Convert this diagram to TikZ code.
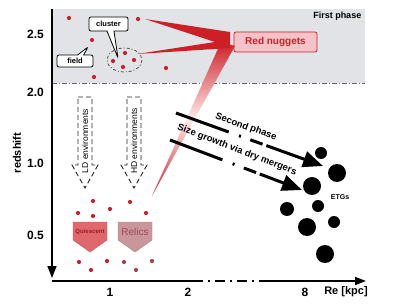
\documentclass[tikz,border=0pt]{standalone}
\usepackage{fontspec}
\setmainfont{Liberation Sans}
\usetikzlibrary{shapes.callouts}
\usetikzlibrary{arrows.meta}

\definecolor{bggray}{HTML}{E1E3E6}
\definecolor{dotred}{HTML}{CC1F2E}
\definecolor{nugred}{HTML}{CC2026}
\definecolor{nugfill}{HTML}{F5C2C8}
\definecolor{quired}{HTML}{E0676B}
\definecolor{quitext}{HTML}{9E1A25}
\definecolor{relpink}{HTML}{C9979B}
\definecolor{reltext}{HTML}{9E4A58}
\definecolor{reldot}{HTML}{A8404E}

\begin{document}
\begin{tikzpicture}[x=1pt, y=-1pt, thick,
    dot/.style = {circle, fill=dotred, inner sep=0pt, minimum size=4.2pt},
    olddot/.style = {dot, fill=reldot},
    etg/.style = {circle, fill=black, inner sep=0pt},
    lbl/.style = {font=\fontsize{12}{12}\selectfont\bfseries},
    env/.style = {draw=black!85, line width=0.9pt, dash pattern=on 5pt off 3pt},
    axis/.style = {line width=1.6pt},
    growth/.style = {line width=3pt, dash pattern=on 56pt off 11pt on 2pt off 10pt on 13pt off 4pt on 300pt, -{Triangle[length=20pt,width=16pt]}},
    bubble/.style = {rectangle callout, draw, line width=0.8pt, rounded corners=2pt, fill=white, font=\fontsize{7.5}{8}\selectfont\bfseries, inner sep=1pt}]
    \useasboundingbox (0,0) rectangle (407,305);
    % first phase band
    \fill[bggray] (52,9) rectangle (365,83);
    \draw[black!60, thin, dash pattern=on 5pt off 2pt on 1pt off 2pt] (52,83) -- (365,83);
    \node[font=\fontsize{9}{9}\selectfont\bfseries, anchor=east] (fp) at (365,16) {First phase};
    \node[draw=nugred, fill=nugfill, rounded corners=2pt, text=nugred, font=\fontsize{10}{10}\selectfont\bfseries, minimum width=83pt, minimum height=20pt] (rn) at (275.5,42) {Red nuggets};
    % red wedges
    \shade[top color=nugred, bottom color=nugred, middle color=white!92!red] (152,196) -- (221,42) -- (235,46) -- cycle;
    \fill[nugred] (145,19) -- (230,32) -- (230,48) -- (137,54) -- (215,42) -- cycle;
    % galaxies at high z
    \node[dot] (1) at (69,18) {};
    \node[dot] (2) at (138,19) {};
    \node[dot] (3) at (92,40) {};
    \node[dot] (4) at (125,53) {};
    \node[dot] (5) at (113,61) {};
    \node[dot] (6) at (134,60) {};
    \node[dot] (7) at (123,67) {};
    \node[dot] (8) at (166,68) {};
    \node[dot] (9) at (94,77) {};
    \draw[black!75, line width=0.7pt, dash pattern=on 3pt off 2pt on 1pt off 2pt] (124.5,60) ellipse [x radius=17.5, y radius=12];
    \node[bubble, callout absolute pointer={(118,58)}, callout pointer width=7pt, minimum width=39pt, minimum height=14pt] (cl) at (108.5,24) {cluster};
    \node[bubble, callout absolute pointer={(88,47)}, callout pointer width=6pt, minimum width=36pt, minimum height=12pt] (fd) at (75,61) {field};
    % environments
    \draw[env] (78,97) -- (92,97) -- (92,165) -- (98,165) -- (85,188) -- (72,165) -- (78,165) -- cycle;
    \node[rotate=90, font=\fontsize{8.5}{9}\selectfont] (ld) at (85,141) {LD environments};
    \draw[env] (127,97) -- (141,97) -- (141,165) -- (147,165) -- (134,188) -- (121,165) -- (127,165) -- cycle;
    \node[rotate=90, font=\fontsize{8.5}{9}\selectfont] (hd) at (134,141) {HD environments};
    % galaxies at low z
    \node[dot] (10) at (93,201) {};
    \node[dot] (11) at (130,202) {};
    \node[dot] (12) at (78,213) {};
    \node[dot] (13) at (93,216) {};
    \node[dot] (14) at (110,209) {};
    \node[dot] (15) at (146,213) {};
    \node[dot] (16) at (79,262) {};
    \node[dot] (17) at (107,261) {};
    \node[dot] (18) at (91,270) {};
    \node[olddot] (19) at (124,262) {};
    \node[olddot] (20) at (152,261) {};
    \node[olddot] (21) at (136,270) {};
    \filldraw[fill=quired, draw=quired!85!black, thin] (73,222) -- (107,222) -- (107,240) -- (90,252) -- (73,240) -- cycle;
    \node[font=\fontsize{6}{6}\selectfont\bfseries, text=quitext] (qs) at (90,232) {Quiescent};
    \filldraw[fill=relpink, draw=relpink!85!black, thin] (118,222) -- (152,222) -- (152,240) -- (135,252) -- (118,240) -- cycle;
    \node[font=\fontsize{10}{10}\selectfont, text=reltext] (rl) at (135,232) {Relics};
    % second phase
    \coordinate (a1) at (176,113);
    \coordinate (a2) at (323,166);
    \coordinate (b1) at (170,140);
    \coordinate (b2) at (302,190);
    \draw[growth] (a1) -- (a2);
    \draw[growth] (b1) -- (b2);
    \node[rotate=-20, font=\fontsize{9.5}{10}\selectfont\bfseries] (sp) at (246,127) {Second phase};
    \node[rotate=-21, font=\fontsize{9.5}{10}\selectfont\bfseries] (sg) at (237,150) {Size growth via dry mergers};
    \node[etg, minimum size=12pt] (e1) at (321,153) {};
    \node[etg, minimum size=18pt] (e2) at (337,173) {};
    \node[etg, minimum size=18pt] (e3) at (312,186) {};
    \node[etg, minimum size=14pt] (e4) at (287,209) {};
    \node[etg, minimum size=12pt] (e5) at (318,206) {};
    \node[etg, minimum size=18pt] (e6) at (307,227) {};
    \node[etg, minimum size=12pt] (e7) at (334,222) {};
    \node[etg, minimum size=18pt] (e8) at (325,254) {};
    \node[font=\fontsize{7}{7}\selectfont\bfseries] (etg) at (340,197) {ETGs};
    % axes
    \coordinate (o) at (52,281);
    \coordinate (ytop) at (52,9);
    \coordinate (ybot) at (52,278);
    \coordinate (x1) at (193,281);
    \coordinate (x2) at (262,281);
    \coordinate (xend) at (366,281);
    \draw[axis, -{Triangle[length=12pt,width=9pt]}] (ytop) -- (ybot);
    \draw[axis] (o) -- (x1);
    \draw[axis, dash pattern=on 10pt off 5pt on 2pt off 5pt] (x1) -- (x2);
    \draw[axis, -{Triangle[length=11pt,width=8pt]}] (x2) -- (xend);
    \node[lbl] (t25) at (35.5,34) {2.5};
    \node[lbl] (t20) at (35.5,92) {2.0};
    \node[lbl] (t10) at (35.5,163) {1.0};
    \node[lbl] (t05) at (35.5,235) {0.5};
    \node[lbl] (t1) at (110,292) {1};
    \node[lbl] (t2) at (188,292) {2};
    \node[lbl] (t8) at (305,292) {8};
    \node[font=\fontsize{11}{11}\selectfont\bfseries] (re) at (346,292) {Re [kpc]};
    \node[rotate=90, font=\fontsize{11}{11}\selectfont\bfseries] (zz) at (17,153) {redshift};
\end{tikzpicture}
\end{document}
